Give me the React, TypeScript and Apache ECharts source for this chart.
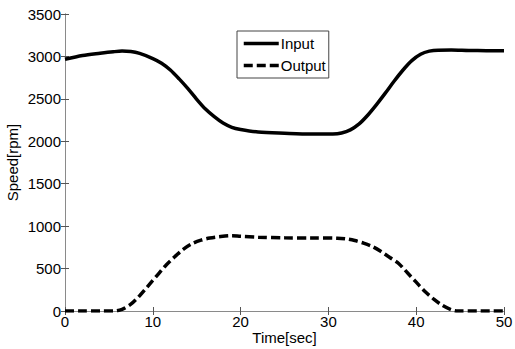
import React, { useEffect, useRef } from "react";
import * as echarts from "echarts";

const inputTime = [0, 2, 4, 5.5, 6.5, 7.5, 8.5, 10, 11, 12, 13, 14, 15, 16, 17, 18, 19, 20, 22, 25, 28, 30.5, 31.5, 32.5, 33.5, 34.5, 35.5, 36.5, 37.5, 38.5, 39.5, 40.5, 41.5, 42.5, 44, 46, 48, 50];
const inputSpeed = [2966, 3010, 3037, 3055, 3063, 3058, 3035, 2975, 2920, 2840, 2735, 2620, 2495, 2380, 2290, 2215, 2165, 2140, 2110, 2095, 2085, 2086, 2098, 2135, 2205, 2310, 2435, 2570, 2710, 2840, 2950, 3025, 3062, 3074, 3075, 3070, 3068, 3068];

const outputTime = [0, 2, 4, 5.5, 6.5, 7.5, 8.5, 9.5, 10.5, 11.5, 12.5, 13.5, 14.5, 15.5, 16.5, 17.5, 19, 20, 22, 25, 28, 31, 32, 33, 34, 35, 36, 37, 38, 39, 40, 41, 42, 43, 44, 44.7, 47, 50];
const outputSpeed = [0, 0, 0, 0, 20, 80, 180, 300, 420, 540, 640, 730, 795, 835, 860, 875, 888, 880, 870, 862, 860, 858, 850, 830, 800, 760, 700, 630, 560, 450, 340, 230, 140, 65, 15, 0, 0, 0];

const xTicks = [0, 10, 20, 30, 40, 50];
const yTicks = [0, 500, 1000, 1500, 2000, 2500, 3000, 3500];

const seriesNames = ["Input", "Output"];

const FONT = "Liberation Sans, Arial, Helvetica, sans-serif";

export default function App() {
  const ref = useRef<HTMLDivElement>(null);
  useEffect(() => {
    if (!ref.current) return;
    const chart = echarts.init(ref.current, null, { renderer: "svg" });
    const xMin = xTicks[0];
    const xMax = xTicks[xTicks.length - 1];
    const xInt = xTicks[1] - xTicks[0];
    const yMin = yTicks[0];
    const yMax = yTicks[yTicks.length - 1];
    const yInt = yTicks[1] - yTicks[0];
    const axisLineStyle = { color: "#8a8a8a", width: 1 };
    const tickStyle = { show: true, inside: true, length: 4, lineStyle: { color: "#555", width: 1 } };
    const labelStyle = { color: "#000", fontFamily: FONT, fontSize: 15, formatter: (v: number) => String(v) };
    chart.setOption({
      animation: false,
      backgroundColor: "#fff",
      grid: { left: 65, right: 11, top: 14, bottom: 38, containLabel: false, outerBoundsMode: "none" },
      legend: {
        show: true,
        orient: "vertical",
        left: 237,
        top: 31,
        padding: [5, 3, 5, 5],
        itemWidth: 35,
        itemHeight: 14,
        itemGap: 7,
        borderColor: "#444",
        borderWidth: 1,
        backgroundColor: "#fff",
        itemStyle: { opacity: 0, borderWidth: 0 },
        lineStyle: { width: 3.5, color: "#000" },
        textStyle: { color: "#000", fontFamily: FONT, fontSize: 15, padding: [0, 0, 0, -3] },
        data: seriesNames,
      },
      xAxis: [
        {
          type: "value",
          min: xMin,
          max: xMax,
          interval: xInt,
          position: "bottom",
          name: "Time[sec]",
          nameLocation: "middle",
          nameGap: 19,
          nameMoveOverlap: false,
          nameTextStyle: { color: "#000", fontFamily: FONT, fontSize: 15 },
          axisLine: { show: true, lineStyle: axisLineStyle },
          axisTick: tickStyle,
          axisLabel: { ...labelStyle, margin: 3 },
          splitLine: { show: false },
        },
        {
          type: "value",
          min: xMin,
          max: xMax,
          interval: xInt,
          position: "top",
          axisLine: { show: true, lineStyle: axisLineStyle },
          axisTick: tickStyle,
          axisLabel: { show: false },
          splitLine: { show: false },
        },
      ],
      yAxis: [
        {
          type: "value",
          min: yMin,
          max: yMax,
          interval: yInt,
          position: "left",
          name: "Speed[rpm]",
          nameLocation: "middle",
          nameGap: 45,
          nameMoveOverlap: false,
          nameTextStyle: { color: "#000", fontFamily: FONT, fontSize: 15 },
          axisLine: { show: true, lineStyle: axisLineStyle },
          axisTick: tickStyle,
          axisLabel: { ...labelStyle, margin: 4 },
          splitLine: { show: false },
        },
        {
          type: "value",
          min: yMin,
          max: yMax,
          interval: yInt,
          position: "right",
          axisLine: { show: true, lineStyle: axisLineStyle },
          axisTick: tickStyle,
          axisLabel: { show: false },
          splitLine: { show: false },
        },
      ],
      series: [
        {
          name: seriesNames[0],
          type: "line",
          xAxisIndex: 0,
          yAxisIndex: 0,
          data: inputTime.map((t, i) => [t, inputSpeed[i]]),
          symbol: "none",
          smooth: 0.3,
          lineStyle: { color: "#000", width: 3.5, type: "solid" },
          itemStyle: { color: "#000" },
        },
        {
          name: seriesNames[1],
          type: "line",
          xAxisIndex: 0,
          yAxisIndex: 0,
          data: outputTime.map((t, i) => [t, outputSpeed[i]]),
          symbol: "none",
          smooth: 0.3,
          lineStyle: { color: "#000", width: 3.5, type: [9, 4] },
          itemStyle: { color: "#000" },
        },
      ],
    });
    return () => chart.dispose();
  }, []);
  return <div ref={ref} style={{ width: 515, height: 349, position: "absolute", left: 0, top: 0 }} />;
}
